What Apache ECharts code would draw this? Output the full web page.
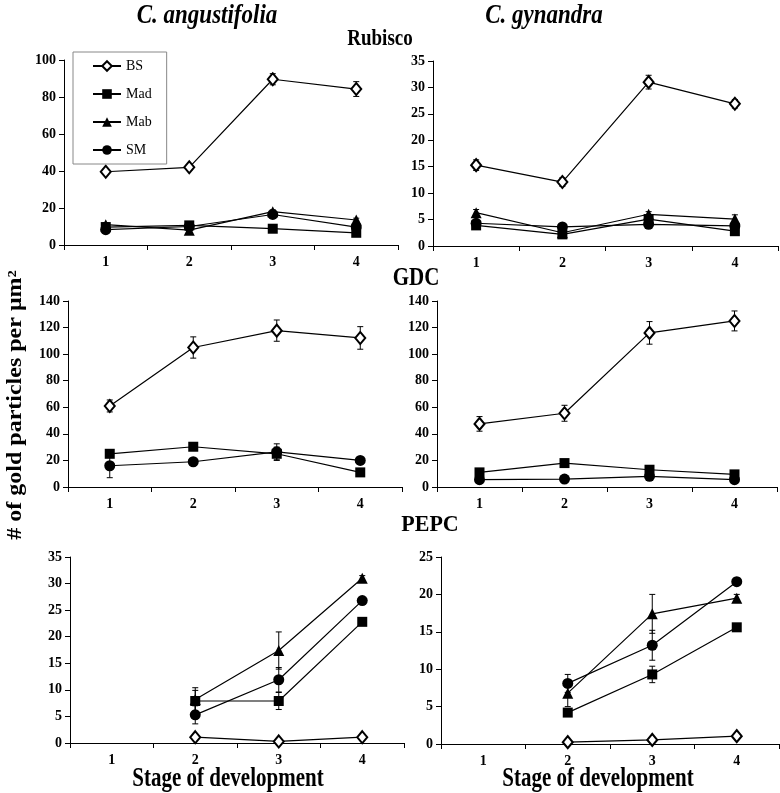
<!DOCTYPE html>
<html>
<head>
<meta charset="utf-8">
<script src="https://cdn.jsdelivr.net/npm/echarts@6/dist/echarts.min.js"></script>
<style>html,body{margin:0;padding:0;background:#fff}#c{width:780px;height:793px}</style>
</head>
<body>
<div id="c"></div>
<script>
// ---- Data ----
const stages = ['1', '2', '3', '4'];
const seriesNames = ['BS', 'Mad', 'Mab', 'SM'];

// Rubisco, C. angustifolia
const rubAng_BS = [39.6, 42, 89.6, 84.3];
const rubAng_Mad = [9.7, 10.6, 8.8, 6.6];
const rubAng_Mab = [11, 8, 18, 13.5];
const rubAng_SM = [8.3, 10, 16.5, 9.7];
const rubAng_BS_err = [1.5, 1.5, 3, 4];
const rubAng_Mad_err = [1, 1, 1, 1];
const rubAng_Mab_err = [1, 1, 1, 1];
const rubAng_SM_err = [1, 1, 1.5, 1];

// Rubisco, C. gynandra
const rubGyn_BS = [15.3, 12.1, 31, 26.9];
const rubGyn_Mad = [3.9, 2.2, 5.1, 2.8];
const rubGyn_Mab = [6.3, 2.5, 6.0, 5.1];
const rubGyn_SM = [4.3, 3.6, 4.1, 3.8];
const rubGyn_BS_err = [1, 0.8, 1.3, 0.8];
const rubGyn_Mad_err = [0.4, 0.4, 0.5, 0.8];
const rubGyn_Mab_err = [0.6, 0.4, 0.5, 0.8];
const rubGyn_SM_err = [0.4, 0.4, 0.4, 0.4];

// GDC, C. angustifolia
const gdcAng_BS = [61, 105, 117.7, 112.2];
const gdcAng_Mad = [25, 30.3, 25, 11];
const gdcAng_Mab = [null, null, null, null];
const gdcAng_SM = [16, 19, 26.5, 20];
const gdcAng_BS_err = [4.5, 8, 8, 8.5];
const gdcAng_Mad_err = [2, 1.5, 5, 1];
const gdcAng_Mab_err = [0, 0, 0, 0];
const gdcAng_SM_err = [9, 1, 6, 1];

// GDC, C. gynandra
const gdcGyn_BS = [47.5, 55.5, 116, 125];
const gdcGyn_Mad = [11, 18, 13, 9.5];
const gdcGyn_Mab = [null, null, null, null];
const gdcGyn_SM = [5.5, 6, 8, 5.5];
const gdcGyn_BS_err = [5.5, 6, 8.5, 7.5];
const gdcGyn_Mad_err = [2, 2, 2, 1.5];
const gdcGyn_Mab_err = [0, 0, 0, 0];
const gdcGyn_SM_err = [1, 1, 1, 1];

// PEPC, C. angustifolia
const pepAng_BS = [null, 1.1, 0.3, 1.1];
const pepAng_Mad = [null, 7.9, 7.9, 22.8];
const pepAng_Mab = [null, 8.2, 17.4, 31];
const pepAng_SM = [null, 5.3, 11.9, 26.8];
const pepAng_BS_err = [0, 0.2, 0.2, 0.2];
const pepAng_Mad_err = [0, 2, 1.6, 0.5];
const pepAng_Mab_err = [0, 2.2, 3.5, 0.5];
const pepAng_SM_err = [0, 1.7, 2.3, 0.5];

// PEPC, C. gynandra
const pepGyn_BS = [null, 0.25, 0.55, 1.05];
const pepGyn_Mad = [null, 4.2, 9.3, 15.6];
const pepGyn_Mab = [null, 6.8, 17.4, 19.5];
const pepGyn_SM = [null, 8.1, 13.2, 21.7];
const pepGyn_BS_err = [0, 0.1, 0.1, 0.1];
const pepGyn_Mad_err = [0, 0.5, 1.1, 0.5];
const pepGyn_Mab_err = [0, 1.8, 2.6, 0.5];
const pepGyn_SM_err = [0, 1.2, 2, 0.5];

// Axis limits
const yMaxes = [100, 35, 140, 140, 35, 25];
const yIntervals = [20, 5, 20, 20, 5, 5];

// ---- Build chart ----
const panels = [
  {vals: [rubAng_BS, rubAng_Mad, rubAng_Mab, rubAng_SM], errs: [rubAng_BS_err, rubAng_Mad_err, rubAng_Mab_err, rubAng_SM_err]},
  {vals: [rubGyn_BS, rubGyn_Mad, rubGyn_Mab, rubGyn_SM], errs: [rubGyn_BS_err, rubGyn_Mad_err, rubGyn_Mab_err, rubGyn_SM_err]},
  {vals: [gdcAng_BS, gdcAng_Mad, gdcAng_Mab, gdcAng_SM], errs: [gdcAng_BS_err, gdcAng_Mad_err, gdcAng_Mab_err, gdcAng_SM_err]},
  {vals: [gdcGyn_BS, gdcGyn_Mad, gdcGyn_Mab, gdcGyn_SM], errs: [gdcGyn_BS_err, gdcGyn_Mad_err, gdcGyn_Mab_err, gdcGyn_SM_err]},
  {vals: [pepAng_BS, pepAng_Mad, pepAng_Mab, pepAng_SM], errs: [pepAng_BS_err, pepAng_Mad_err, pepAng_Mab_err, pepAng_SM_err]},
  {vals: [pepGyn_BS, pepGyn_Mad, pepGyn_Mab, pepGyn_SM], errs: [pepGyn_BS_err, pepGyn_Mad_err, pepGyn_Mab_err, pepGyn_SM_err]}
];

const grids = [
  {left: 64, top: 60, width: 334, height: 185},
  {left: 433, top: 61, width: 345, height: 185},
  {left: 68, top: 301, width: 334, height: 186},
  {left: 437, top: 301, width: 340, height: 186},
  {left: 70, top: 557, width: 334, height: 186},
  {left: 441, top: 557, width: 338, height: 187}
];

const FONT = 'Liberation Serif';
const symbols = ['emptyDiamond', 'rect', 'triangle', 'circle'];
const symbolSizes = [[10, 12], 10, 11, 11];

const xAxes = [], yAxes = [], series = [];
grids.forEach((g, i) => {
  xAxes.push({
    type: 'category', gridIndex: i, data: stages, boundaryGap: true,
    axisLine: {show: true, lineStyle: {color: '#000', width: 1}},
    axisTick: {show: true, length: 5, lineStyle: {color: '#000'}},
    axisLabel: {color: '#000', fontFamily: FONT, fontWeight: 'bold', fontSize: 14, margin: 10},
    splitLine: {show: false}
  });
  yAxes.push({
    type: 'value', gridIndex: i, min: 0, max: yMaxes[i], interval: yIntervals[i],
    axisLine: {show: true, lineStyle: {color: '#000', width: 1}},
    axisTick: {show: true, length: 5, lineStyle: {color: '#000'}},
    axisLabel: {color: '#000', fontFamily: FONT, fontWeight: 'bold', fontSize: 14, margin: 8},
    splitLine: {show: false}
  });
  const p = panels[i];
  p.vals.forEach((vals, k) => {
    const errData = [];
    vals.forEach((v, j) => { if (v !== null && p.errs[k][j] > 0) errData.push([j, v, p.errs[k][j]]); });
    series.push({
      type: 'custom', xAxisIndex: i, yAxisIndex: i, silent: true, z: 1,
      data: errData,
      renderItem: function (params, api) {
        const x = api.value(0), v = api.value(1), e = api.value(2);
        const top = api.coord([x, v + e]);
        const bot = api.coord([x, Math.max(0, v - e)]);
        const c = 3;
        const st = {stroke: '#000', lineWidth: 1};
        return {type: 'group', children: [
          {type: 'line', shape: {x1: top[0], y1: top[1], x2: bot[0], y2: bot[1]}, style: st},
          {type: 'line', shape: {x1: top[0] - c, y1: top[1], x2: top[0] + c, y2: top[1]}, style: st},
          {type: 'line', shape: {x1: bot[0] - c, y1: bot[1], x2: bot[0] + c, y2: bot[1]}, style: st}
        ]};
      }
    });
    series.push({
      type: 'line', name: seriesNames[k], xAxisIndex: i, yAxisIndex: i, z: 3,
      data: vals.map(v => v === null ? '-' : v),
      symbol: symbols[k], symbolSize: symbolSizes[k], showSymbol: true,
      connectNulls: false, animation: false,
      lineStyle: {color: '#000', width: 1.2},
      itemStyle: {color: '#000', borderColor: '#000', borderWidth: k === 0 ? 1.2 : 0}
    });
  });
});

function txt(text, x, y, font, sy, rot, sx) {
  return {
    type: 'text', x: x, y: y, scaleY: sy || 1, scaleX: sx || 1, rotation: rot || 0,
    style: {text: text, font: font, fill: '#000', textAlign: 'center', textVerticalAlign: 'middle'}
  };
}

const chart = echarts.init(document.getElementById('c'), null, {renderer: 'canvas'});
chart.setOption({
  backgroundColor: '#fff',
  animation: false,
  grid: grids,
  xAxis: xAxes,
  yAxis: yAxes,
  legend: {
    data: seriesNames, orient: 'vertical', left: 73, top: 52,
    itemWidth: 28, itemHeight: 12, itemGap: 14,
    padding: [7, 15, 7, 19],
    borderColor: '#888', borderWidth: 1,
    textStyle: {fontFamily: FONT, fontSize: 14, color: '#000'},
    selectedMode: false
  },
  series: series,
  graphic: [
    txt('C. angustifolia', 207, 16, 'italic bold 23px "' + FONT + '"', 1.15),
    txt('C. gynandra', 544, 16, 'italic bold 23px "' + FONT + '"', 1.15),
    txt('Rubisco', 380, 39, 'bold 19px "' + FONT + '"', 1.2),
    txt('GDC', 416, 279, 'bold 21px "' + FONT + '"', 1.15),
    txt('PEPC', 430, 525, 'bold 22px "' + FONT + '"', 1.05),
    txt('Stage of development', 228, 779, 'bold 21px "' + FONT + '"', 1.3),
    txt('Stage of development', 598, 779, 'bold 21px "' + FONT + '"', 1.3),
    txt('# of gold particles per μm²', 16, 405, 'bold 20px "' + FONT + '"', 1, Math.PI / 2, 1.2)
  ]
});
</script>
</body>
</html>
